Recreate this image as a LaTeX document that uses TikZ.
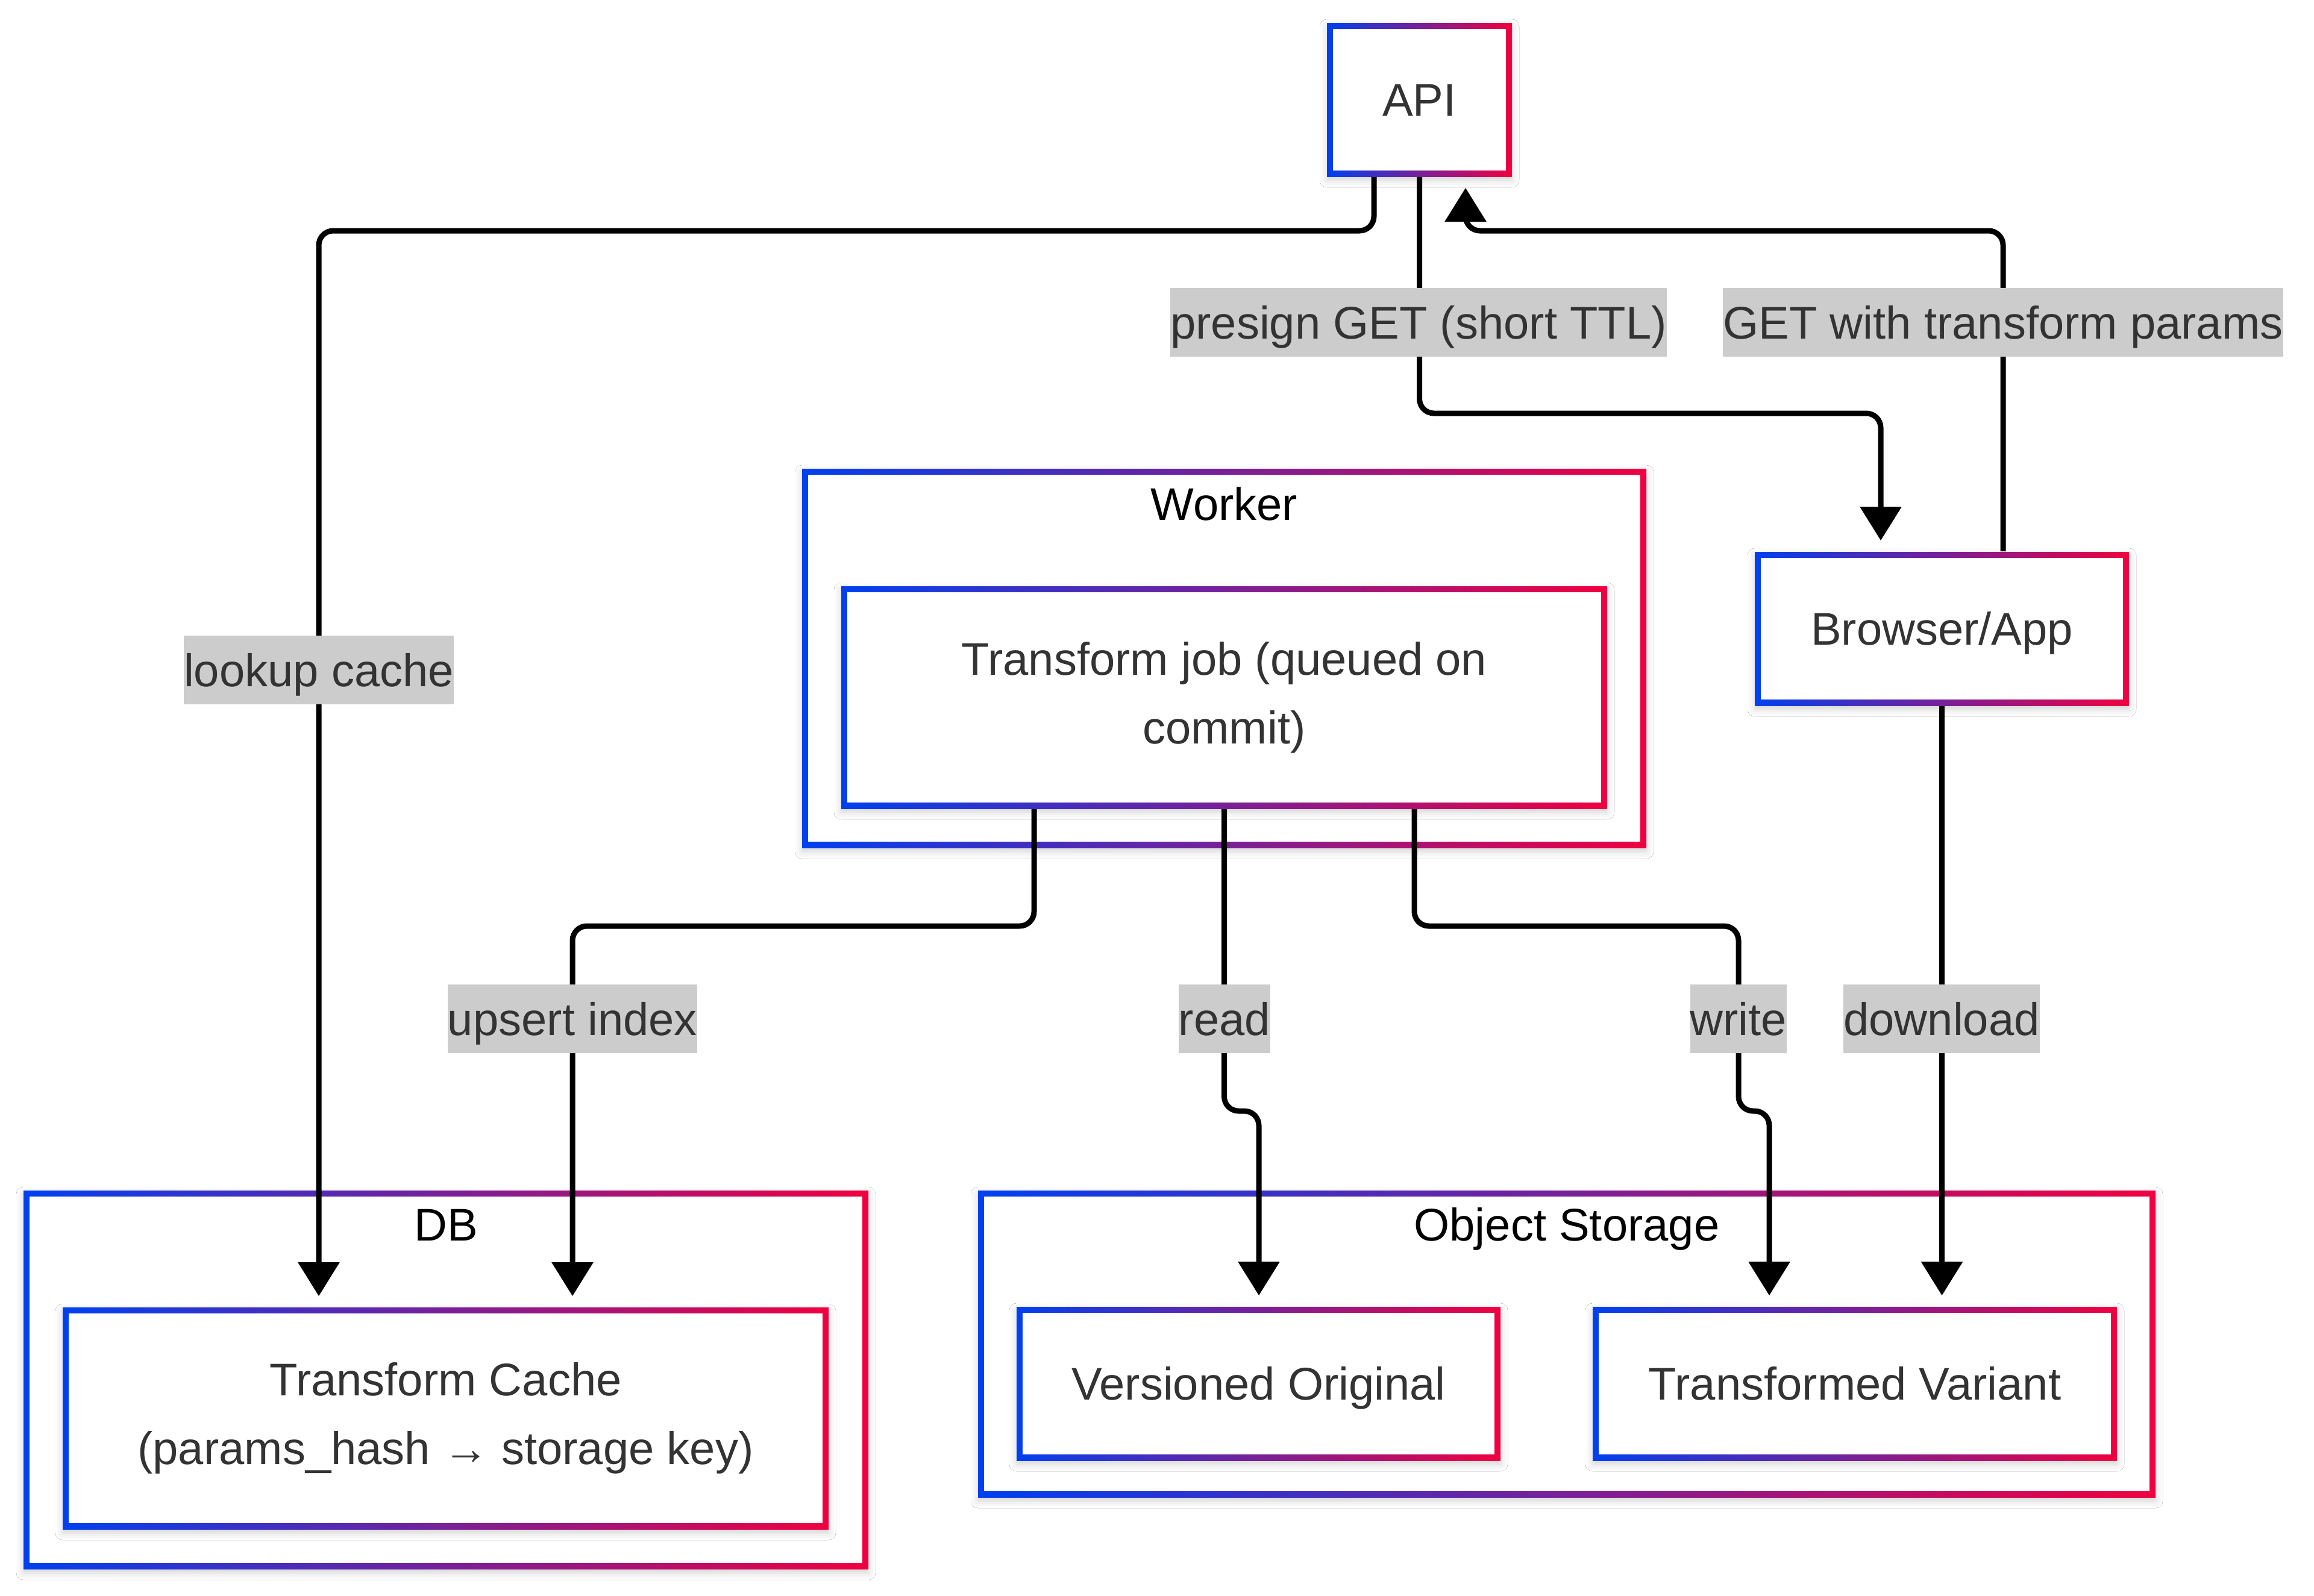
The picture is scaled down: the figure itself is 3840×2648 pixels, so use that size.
\documentclass[tikz,border=0pt]{standalone}
\usepackage{fontspec}
\setmainfont{Liberation Sans}
\usetikzlibrary{arrows.meta,shadows.blur}
\definecolor{gblue}{RGB}{0,64,240}
\definecolor{gred}{RGB}{240,0,64}
\definecolor{txt}{RGB}{51,51,51}
\definecolor{lblbg}{RGB}{204,204,204}
\newcommand\dfont{\fontsize{19}{28.5}\selectfont}
\tikzset{
  gbox/.style={left color=gblue, right color=gred,
    path picture={\fill[white] ([xshift=2.5pt,yshift=2.5pt]path picture bounding box.south west) rectangle ([xshift=-2.5pt,yshift=-2.5pt]path picture bounding box.north east);},
    blur shadow={shadow xshift=0pt, shadow yshift=-1.5pt, shadow blur radius=3pt, shadow opacity=18},
    inner sep=0pt, text=txt, font=\dfont},
  single/.style={text height=13.6pt, text depth=0pt},
  ctitle/.style={anchor=base, text=black, inner sep=0pt, font=\dfont},
  edge/.style={line width=2.25pt, rounded corners=6pt, -{Triangle[length=14pt,width=16.75pt]}, shorten >=4.5pt},
  elabel/.style={fill=lblbg, text=txt, font=\dfont, inner xsep=0pt, inner ysep=0pt, minimum height=28.5pt, text height=13.6pt, text depth=0pt},
}
\begin{document}
\begin{tikzpicture}[x=0.25pt,y=-0.25pt]
\useasboundingbox (0,0) rectangle (3840,2648);
\fill[white] (0,0) rectangle (3840,2648);
% clusters
\node[gbox, minimum width=350.25pt, minimum height=157.25pt] (worker) at (2031.5,1092.5) {};
\node[ctitle] (wtitle) at (2031.5,863) {Worker};
\node[gbox, minimum width=350.5pt, minimum height=157pt] (db) at (740,2290) {};
\node[ctitle] (dbtitle) at (740,2059) {DB};
\node[gbox, minimum width=488.5pt, minimum height=127.25pt] (os) at (2600,2230.5) {};
\node[ctitle] (ostitle) at (2600,2059) {Object Storage};
% nodes
\node[gbox, single, minimum width=76.75pt, minimum height=63.75pt] (api) at (2355.5,165.5) {API};
\node[gbox, single, minimum width=155.25pt, minimum height=63.75pt] (browser) at (3222.5,1043.5) {Browser/App};
\node[gbox, align=center, minimum width=317.75pt, minimum height=92.25pt] (job) at (2031.5,1157.5) {Transform job (queued on\\commit)};
\node[gbox, align=center, minimum width=317.75pt, minimum height=92pt] (cache) at (739.5,2354) {Transform Cache\\(params\_hash → storage key)};
\node[gbox, single, minimum width=200.75pt, minimum height=63.75pt] (vo) at (2088.5,2296.5) {Versioned Original};
\node[gbox, single, minimum width=217.5pt, minimum height=63.75pt] (tv) at (3078,2296.5) {Transformed Variant};
% helper coordinates
\coordinate (lcA) at (2280,0);
\coordinate (lcB) at (529,383);
\coordinate (psB) at (3121,686);
\coordinate (gtA) at (3324,0);
\coordinate (gtB) at (2432,383);
\coordinate (upA) at (1716,0);
\coordinate (upB) at (950,1537);
\coordinate (rdB) at (2089,1844);
\coordinate (wrA) at (2347,0);
\coordinate (wrB) at (2885,1537);
\coordinate (wrC) at (2936,1844);
% edges
\draw[edge] (api.south -| lcA) |- (lcB) -- (cache.north -| lcB);
\draw[edge] (api.south) |- (psB) -- (browser.north -| psB);
\draw[edge] (browser.north -| gtA) |- (gtB) -- (api.south -| gtB);
\draw[edge] (job.south -| upA) |- (upB) -- (cache.north -| upB);
\draw[edge] (job.south) |- (rdB) -- (vo.north -| rdB);
\draw[edge] (job.south -| wrA) |- (wrB) |- (wrC) -- (tv.north -| wrC);
\draw[edge] (browser.south) -- (tv.north -| browser.south);
% edge labels
\node[elabel] (l1) at (529,1112) {lookup cache};
\node[elabel] (l2) at (2354,535) {presign GET (short TTL)};
\node[elabel] (l3) at (3324,535) {GET with transform params};
\node[elabel] (l4) at (950,1691) {upsert index};
\node[elabel] (l5) at (2032,1691) {read};
\node[elabel] (l6) at (2885,1691) {write};
\node[elabel] (l7) at (3222,1691) {download};
\end{tikzpicture}
\end{document}
